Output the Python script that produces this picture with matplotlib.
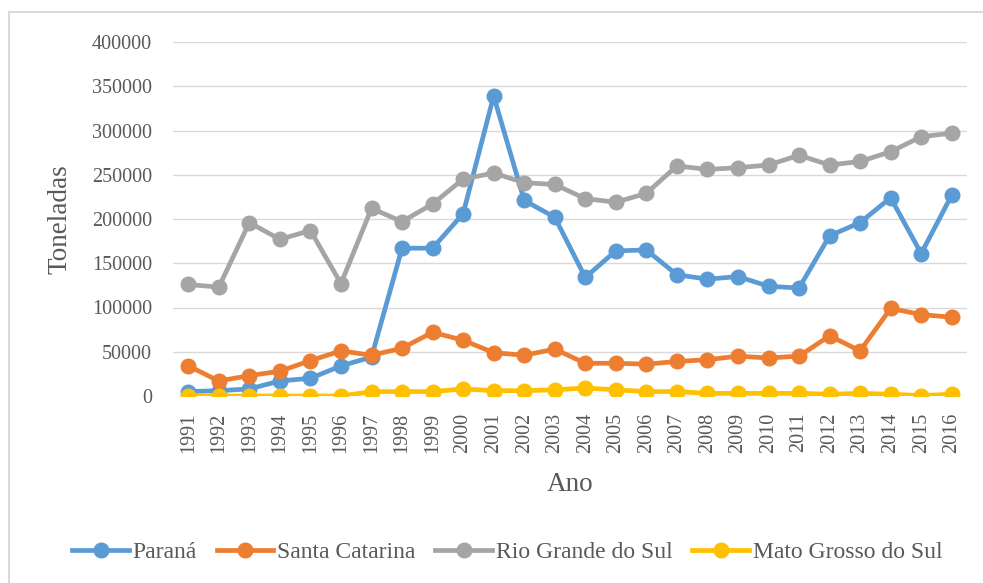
import matplotlib.pyplot as plt
from matplotlib.lines import Line2D
import numpy as np

years = list(range(1991, 2017))

parana = [5000, 6000, 8000, 17000, 20000, 34000, 44000, 167000, 167000, 206000,
          339000, 221000, 202000, 134000, 164000, 165000, 137000, 132000, 135000,
          124000, 122000, 181000, 196000, 224000, 161000, 227000]
santa_catarina = [34000, 17000, 23000, 28000, 40000, 51000, 46000, 54000, 72000, 63000,
                  49000, 46000, 53000, 37000, 37000, 36000, 39000, 41000, 45000,
                  43000, 45000, 68000, 51000, 99000, 92000, 89000]
rio_grande = [126000, 123000, 196000, 177000, 187000, 127000, 212000, 197000, 217000,
              245000, 252000, 241000, 239000, 223000, 219000, 229000, 260000, 256000,
              258000, 261000, 272000, 261000, 265000, 276000, 293000, 297000]
mato_grosso = [0, 0, 0, 0, 0, 0, 5000, 5000, 5000, 8000, 6000, 6000, 7000, 9000,
               7000, 5000, 5000, 3000, 3000, 3000, 3000, 2000, 3000, 2000, 500, 2000]

series = [
    ('Paraná', parana, '#5b9bd5'),
    ('Santa Catarina', santa_catarina, '#ed7d31'),
    ('Rio Grande do Sul', rio_grande, '#a5a5a5'),
    ('Mato Grosso do Sul', mato_grosso, '#ffc000'),
]

plt.rcParams['font.family'] = ['Liberation Serif', 'DejaVu Serif']
text_color = '#595959'

fig = plt.figure(figsize=(9.83, 5.83), dpi=100)
ax = fig.add_axes([173 / 983, 1 - 396 / 583, (967 - 173) / 983, (396 - 42) / 583])

x = np.arange(len(years))
for name, vals, color in series:
    ax.plot(x, vals, color=color, lw=3.4, marker='o', ms=10.5, label=name,
            solid_capstyle='round', solid_joinstyle='round')

ax.set_xlim(-0.5, len(years) - 0.5)
ax.set_ylim(0, 400000)
ax.set_yticks(np.arange(0, 400001, 50000))
ax.set_yticklabels([str(v) for v in range(0, 400001, 50000)])
ax.set_xticks(x)
ax.set_xticklabels([str(y) for y in years], rotation=90)
ax.tick_params(axis='both', length=0, labelsize=14.5, colors=text_color)
ax.tick_params(axis='y', pad=15)
ax.tick_params(axis='x', pad=12)
ax.grid(axis='y', color='#d9d9d9', lw=1)
ax.set_axisbelow(True)
for s in ax.spines.values():
    s.set_visible(False)

ax.set_ylabel('Toneladas', fontsize=19.5, color=text_color, labelpad=14)
ax.set_xlabel('Ano', fontsize=19.5, color=text_color, labelpad=14)

handles = [Line2D([], [], color=c, lw=3.4, marker='o', ms=10.5) for _, _, c in series]
fig.legend(handles, [n for n, _, _ in series], loc='center', ncol=4,
           bbox_to_anchor=(0.516, 1 - 552 / 583), frameon=False, fontsize=17,
           handlelength=2.4, handletextpad=0.15, columnspacing=0.85,
           labelcolor=text_color)

# outer chart border (light gray)
fig.add_artist(Line2D([9 / 983, 9 / 983], [0, 1 - 12 / 583], color='#d9d9d9',
                      lw=1.5, transform=fig.transFigure))
fig.add_artist(Line2D([9 / 983, 1], [1 - 12 / 583, 1 - 12 / 583], color='#d9d9d9',
                      lw=1.5, transform=fig.transFigure))

fig.savefig('out.png', dpi=100)
